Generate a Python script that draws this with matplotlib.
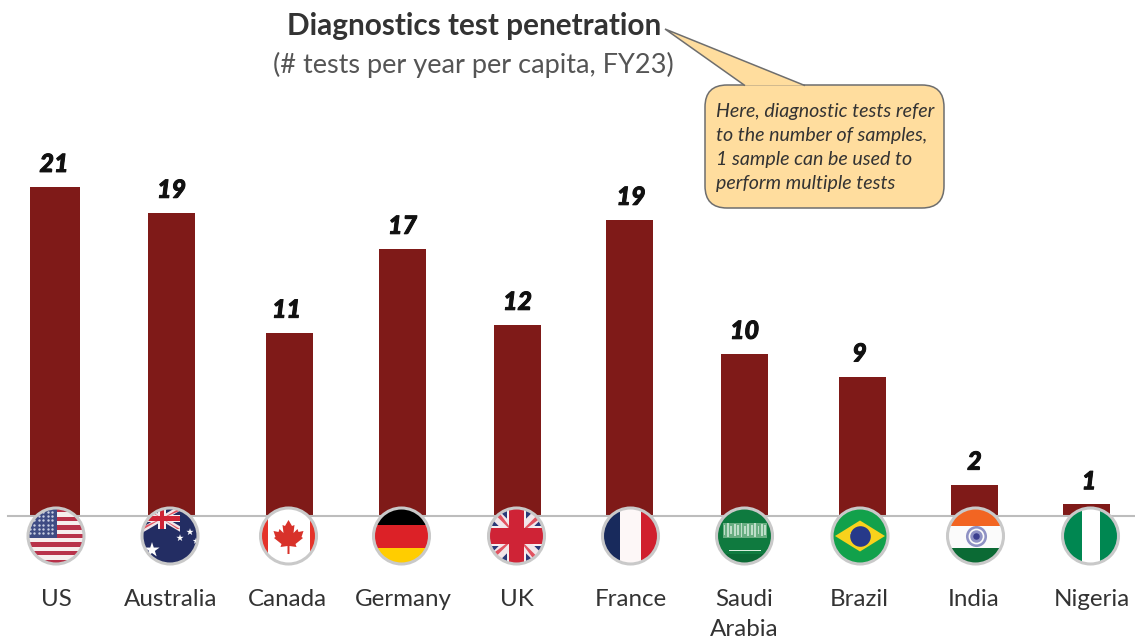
import numpy as np
import matplotlib
matplotlib.use('Agg')
import matplotlib.pyplot as plt
import matplotlib.patheffects as pe
from matplotlib.patches import Circle, Rectangle, Polygon, FancyBboxPatch

plt.rcParams['font.family'] = ['Lato', 'DejaVu Sans']

countries = ['US', 'Australia', 'Canada', 'Germany', 'UK', 'France',
             'Saudi\nArabia', 'Brazil', 'India', 'Nigeria']
tests = [21.0, 19.35, 11.7, 17.05, 12.2, 18.9, 10.35, 8.9, 2.0, 0.75]
value_labels = ['21', '19', '11', '17', '12', '19', '10', '9', '2', '1']

# layout, in pixels of the 1135x639 picture
W, H = 1135, 639
bar_x = [55, 171.5, 289.5, 402.5, 517.5, 629.5, 744.5, 862.5, 974.5, 1086.5]
bar_w = [50, 47, 47, 47, 47, 47, 47, 47, 47, 47]
label_shift = [-1, 0, -3, 0, 0, 1.5, 0, -3, 0, 2.5]
flag_x = [56, 170, 288.5, 401.5, 516.5, 630.5, 744.5, 860, 975.5, 1090.5]
name_x = [56, 171, 287, 403, 517, 631, 744, 859, 974, 1092]
base_y, px_per_unit = 516, 15.67
flag_y, flag_r = 536, 28

fig = plt.figure(figsize=(W / 100, H / 100), dpi=100)
ax = fig.add_axes([0, 0, 1, 1])
ax.set_xlim(0, W)
ax.set_ylim(-(H - base_y) / px_per_unit, base_y / px_per_unit)
ax.axis('off')

ax.bar(bar_x, tests, width=bar_w, color='#7f1a18', zorder=2)
ax.plot([8, W], [0, 0], color='#bdbdbd', lw=1.5, zorder=3)
for x, v, s, dx in zip(bar_x, tests, value_labels, label_shift):
    ax.annotate(s, (x, v), xytext=(dx * 0.72, 22.5 * 0.72), textcoords='offset points',
                ha='center', va='center', fontsize=18, fontweight='black',
                fontstyle='italic', color='#111111',
                path_effects=[pe.withStroke(linewidth=0.7, foreground='#111111')])

# second axes in picture pixels, for flags and text
pa = fig.add_axes([0, 0, 1, 1], facecolor='none')
pa.set_xlim(0, W)
pa.set_ylim(H, 0)
pa.axis('off')


def flag(i, draw):
    cx = flag_x[i]
    clip = Circle((cx, flag_y), flag_r, transform=pa.transData)

    def rect(x0, y0, x1, y1, c, alpha=1):
        r = Rectangle((cx + x0, flag_y + y0), x1 - x0, y1 - y0, fc=c, ec='none', alpha=alpha, zorder=5)
        pa.add_patch(r)
        r.set_clip_path(clip)

    def poly(pts, c, alpha=1):
        r = Polygon([(cx + a, flag_y + b) for a, b in pts], closed=True, fc=c, ec='none', alpha=alpha, zorder=6)
        pa.add_patch(r)
        r.set_clip_path(clip)

    def dots(xs, ys, c, s, m='o', alpha=1):
        r = pa.scatter(np.array(xs) + cx, np.array(ys) + flag_y, s=s, c=c, marker=m, lw=0, alpha=alpha, zorder=7)
        r.set_clip_path(clip)

    draw(rect, poly, dots)
    pa.add_patch(Circle((cx, flag_y), flag_r, fc='none', ec='#c9c9c9', lw=2.2, zorder=8))


def jack(rect, poly, x0, y0, x1, y1, navy, t_frac=0.2, red_frac=0.62):
    # union jack inside a box
    rect(x0, y0, x1, y1, navy)
    w = (y1 - y0) * 0.13
    for a, b, c, d in [(x0, y0, x1, y1), (x0, y1, x1, y0)]:
        poly([(a, b - w), (a, b + w), (c, d + w), (c, d - w)], '#f2e6ea')
    mx, my = (x0 + x1) / 2, (y0 + y1) / 2
    t = (y1 - y0) * t_frac
    for pts in [[(x0, y0), (mx, my), (x0 + w, y0)], [(x1, y1), (mx, my), (x1 - w, y1)],
                [(x1, y0), (mx, my), (x1, y0 + w)], [(x0, y1), (mx, my), (x0, y1 - w)]]:
        poly(pts, '#e2525f')
    rect(x0, my - t, x1, my + t, '#f7f0f2')
    rect(mx - t, y0, mx + t, y1, '#f7f0f2')
    t *= red_frac
    # the cross sits on top of the diagonals
    poly([(x0, my - t), (x1, my - t), (x1, my + t), (x0, my + t)], '#cf2336')
    poly([(mx - t, y0), (mx + t, y0), (mx + t, y1), (mx - t, y1)], '#cf2336')


def us(rect, poly, dots):
    rect(-30, -30, 30, 30, '#f6eeee')
    for k in range(0, 13, 2):
        rect(-30, -28 + k * 4.3, 30, -28 + (k + 1) * 4.3, '#b8324a')
    rect(-30, -30, 1, 2, '#3f4c84')
    xs, ys = np.meshgrid(np.arange(-26, 0, 4.4), np.arange(-24, 1, 4.2))
    dots(xs.ravel(), ys.ravel(), '#c9cfe2', 3)


def australia(rect, poly, dots):
    rect(-30, -30, 30, 30, '#232d63')
    jack(rect, poly, -26, -28, 10, -7, '#232d63', 0.17, 0.6)
    dots([-18, 10, 20, 26], [14, 2, -4, 5], 'white', [130, 30, 30, 25], '*')


def canada(rect, poly, dots):
    rect(-30, -30, 30, 30, 'white')
    rect(-30, -30, -21, 30, '#e5332a')
    rect(21, -30, 30, 30, '#e5332a')
    poly([(0, -16), (3.5, -10), (6, -11), (5, -3), (9, -7), (10, -4), (15, -5), (13, 1), (14.5, 2),
          (7, 8), (8, 11), (1, 10), (1, 18), (-1, 18), (-1, 10), (-8, 11), (-7, 8), (-14.5, 2), (-13, 1),
          (-15, -5), (-10, -4), (-9, -7), (-5, -3), (-6, -11), (-3.5, -10)], '#d8322a')


def germany(rect, poly, dots):
    rect(-30, -30, 30, -11, 'black')
    rect(-30, -11, 30, 11.5, '#dc2127')
    rect(-30, 11.5, 30, 30, '#ffcd00')


def uk(rect, poly, dots):
    jack(rect, poly, -30, -30, 30, 30, '#2b3a78', 0.16, 0.8)


def france(rect, poly, dots):
    rect(-30, -30, -11, 30, '#182a5c')
    rect(-11, -30, 10, 30, '#fdf7f7')
    rect(10, -30, 30, 30, '#d01f2e')


def saudi(rect, poly, dots):
    rect(-30, -30, 30, 30, '#0f7a3f')
    rect(-30, 18, 30, 30, '#0b6a35')
    rect(-22, -13, 22, 2, '#7fbb93', 0.8)
    for k, x in enumerate(np.arange(-21, 21, 3.4)):
        h = [10, 14, 8, 12][k % 4]
        rect(x, -6 - h / 2, x + 1.8, -6 + h / 2, '#d3eadb', 0.8)
    rect(-16, 13.5, 16, 15, '#d8eedd')


def brazil(rect, poly, dots):
    rect(-30, -30, 30, 30, '#12a14b')
    poly([(-25, 0), (0, -15.5), (25, 0), (0, 15.5)], '#f8d21c')
    dots([0], [0], '#26398a', 220)
    poly([(-10, -3), (10, 2), (10, 3), (-10, -2)], '#e8eef4')


def india(rect, poly, dots):
    rect(-30, -30, 30, -10, '#f26522')
    rect(-30, -10, 30, 12, '#fbfbfb')
    rect(-30, 12, 30, 30, '#0b6a34')
    dots([0], [0], '#8f92c4', 230)
    dots([0], [0], '#fbfbfb', 130)
    dots([0], [0], '#8f92c4', 80)
    dots([0], [0], '#3b3f8f', 22)


def nigeria(rect, poly, dots):
    rect(-30, -30, 30, 30, '#008751')
    rect(-9, -30, 9, 30, 'white')


for i, d in enumerate([us, australia, canada, germany, uk, france, saudi, brazil, india, nigeria]):
    flag(i, d)

for x, name in zip(name_x, countries):
    pa.text(x, 589.5, name, ha='center', va='top', fontsize=17.4, color='#333333', linespacing=1.5)

pa.text(474, 26.5, 'Diagnostics test penetration', ha='center', va='center', fontsize=21.4,
        fontweight='bold', color='#333333')
pa.text(473, 65, '(# tests per year per capita, FY23)', ha='center', va='center', fontsize=19.5,
        color='#555555')

# callout
edge, fill = '#6e6e6e', '#ffdd9e'
pa.add_patch(FancyBboxPatch((705 + 22, 85 + 22), 239 - 44, 123 - 44, boxstyle='round,pad=22,rounding_size=22',
                            fc=fill, ec=edge, lw=1.1, zorder=3, mutation_aspect=1))
pa.add_patch(Polygon([(745, 85.6), (665, 29), (805, 85.6)], closed=False, fc=fill, ec=edge, lw=1.1, zorder=4))
note = ['Here, diagnostic tests refer', 'to the number of samples,', '1 sample can be used to',
        'perform multiple tests']
for k, line in enumerate(note):
    pa.text(716, 112 + k * 23.7, line, ha='left', va='center', fontsize=14.1, fontstyle='italic',
            color='#333333', zorder=5)

fig.savefig('out.png', dpi=100)
